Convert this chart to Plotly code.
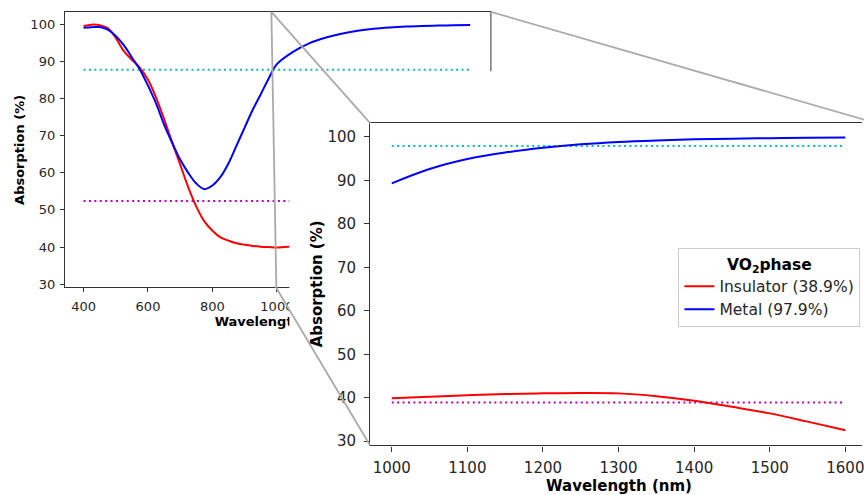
import plotly.graph_objects as go

# ---------------- data ----------------
wavelength = [400, 425, 450, 475, 500, 525, 550, 575, 600, 625, 650, 675, 700,
              725, 750, 775, 800, 825, 850, 875, 900, 925, 950, 975, 1000,
              1050, 1100, 1150, 1200, 1250, 1300, 1350, 1400, 1450, 1500, 1550, 1600]
insulator = [99.6, 99.95, 99.8, 99.0, 96.4, 92.8, 90.5, 88.3, 85.1, 80.3, 74.5, 68.2, 62.2,
             56.1, 50.9, 46.9, 44.4, 42.6, 41.7, 41.0, 40.6, 40.3, 40.1, 40.0, 39.9,
             40.2, 40.55, 40.85, 41.0, 41.1, 41.0, 40.35, 39.3, 37.9, 36.4, 34.5, 32.5]
metal = [99.1, 99.25, 99.3, 98.6, 96.9, 94.4, 91.1, 87.8, 83.5, 78.7, 73.0, 68.1, 63.6,
         60.0, 57.1, 55.6, 56.6, 58.9, 62.6, 67.4, 72.2, 77.0, 81.2, 85.5, 89.3,
         92.6, 94.9, 96.4, 97.5, 98.3, 98.85, 99.2, 99.45, 99.6, 99.7, 99.8, 99.85]

full_span = [400, 1600]
nir_span = [1000, 1600]
avg_full_insulator = 52.4
avg_full_metal = 87.8
avg_nir_insulator = 38.9
avg_nir_metal = 97.9

main_xticks = [400, 600, 800, 1000, 1200, 1400, 1600]
inset_xticks = [1000, 1100, 1200, 1300, 1400, 1500, 1600]
yticks = [30, 40, 50, 60, 70, 80, 90, 100]

# ---------------- layout helpers ----------------
W, H = 864, 495
def fx(p):
    return p / W
def fy(p):
    return 1 - p / H

FONT = "DejaVu Sans"
RED, BLUE, CYAN, MAG = "#ff0000", "#0000ff", "#00bfbf", "#bf00bf"
SPINE = "#333333"
TXT = "#262626"
DOT = "2px,3.4px"

main_xr = [342, 1664]
main_yr = [29.2, 103.39]
inset_xr = [971.4, 1622]
inset_yr = [29.02, 103.19]

inset_idx = [i for i, w in enumerate(wavelength) if w >= nir_span[0]]
inset_wl = [wavelength[i] for i in inset_idx]
inset_ins = [insulator[i] for i in inset_idx]
inset_met = [metal[i] for i in inset_idx]

fig = go.Figure()

# ----- main plot (x, y) -----
fig.add_trace(go.Scatter(x=full_span, y=[avg_full_metal] * 2, mode="lines",
                         line=dict(color=CYAN, width=2, dash=DOT), showlegend=False,
                         xaxis="x", yaxis="y"))
fig.add_trace(go.Scatter(x=full_span, y=[avg_full_insulator] * 2, mode="lines",
                         line=dict(color=MAG, width=2, dash=DOT), showlegend=False,
                         xaxis="x", yaxis="y"))
fig.add_trace(go.Scatter(x=wavelength, y=insulator, mode="lines", line=dict(color=RED, width=2, shape="spline"),
                         showlegend=False, xaxis="x", yaxis="y"))
fig.add_trace(go.Scatter(x=wavelength, y=metal, mode="lines", line=dict(color=BLUE, width=2, shape="spline"),
                         showlegend=False, xaxis="x", yaxis="y"))

# ----- main x-axis title holder (x2, y2): below the main panel so the inset panel can hide part of it
fig.add_trace(go.Scatter(x=[0.5], y=[0.5], mode="text", text=["<b>Wavelength (nm)</b>"],
                         textfont=dict(family=FONT, size=13, color="black"),
                         cliponaxis=False, showlegend=False, hoverinfo="skip",
                         xaxis="x2", yaxis="y2"))

# ----- white cover panel (x3, y3) -----
fig.add_trace(go.Scatter(x=[None], y=[None], xaxis="x3", yaxis="y3", showlegend=False, hoverinfo="skip"))

# ----- inset (x4, y4) -----
fig.add_trace(go.Scatter(x=nir_span, y=[avg_nir_metal] * 2, mode="lines",
                         line=dict(color=CYAN, width=2, dash=DOT), showlegend=False,
                         xaxis="x4", yaxis="y4"))
fig.add_trace(go.Scatter(x=nir_span, y=[avg_nir_insulator] * 2, mode="lines",
                         line=dict(color=MAG, width=2, dash=DOT), showlegend=False,
                         xaxis="x4", yaxis="y4"))
fig.add_trace(go.Scatter(x=inset_wl, y=inset_ins, mode="lines", line=dict(color=RED, width=2, shape="spline"),
                         name=f"Insulator ({avg_nir_insulator}%)", xaxis="x4", yaxis="y4"))
fig.add_trace(go.Scatter(x=inset_wl, y=inset_met, mode="lines", line=dict(color=BLUE, width=2, shape="spline"),
                         name=f"Metal ({avg_nir_metal}%)", xaxis="x4", yaxis="y4"))

axis_common = dict(showgrid=False, zeroline=False, showline=True, linecolor=SPINE, linewidth=1.1,
                   ticks="outside", tickcolor=SPINE, tickwidth=1, ticklabeloverflow="allow")

fig.update_layout(
    width=W, height=H, autosize=False,
    margin=dict(l=0, r=0, t=0, b=0),
    paper_bgcolor="white", plot_bgcolor="white",
    font=dict(family=FONT, color=TXT),
    xaxis=dict(domain=[fx(65), fx(492)], range=main_xr, anchor="y", mirror=True,
               tickvals=main_xticks, ticklen=4, tickfont=dict(size=13), ticklabelstandoff=3,
               **axis_common),
    yaxis=dict(domain=[fy(290), fy(12)], range=main_yr, anchor="x",
               tickvals=yticks, ticklen=4, tickfont=dict(size=13), ticklabelstandoff=2,
               **axis_common),
    xaxis2=dict(domain=[fx(65), fx(492)], range=[0, 1], anchor="y2", visible=False),
    yaxis2=dict(domain=[fy(338), fy(314)], range=[0, 1], anchor="x2", visible=False),
    xaxis3=dict(domain=[fx(290), 1], range=[0, 1], anchor="y3", visible=False),
    yaxis3=dict(domain=[0, fy(72)], range=[0, 1], anchor="x3", visible=False),
    xaxis4=dict(domain=[fx(371), 1], range=inset_xr, anchor="y4", mirror=True,
                tickvals=inset_xticks, ticklen=5, tickfont=dict(size=15), ticklabelstandoff=3,
                **axis_common),
    yaxis4=dict(domain=[fy(450), fy(124.3)], range=inset_yr, anchor="x4",
                tickvals=yticks, ticklen=5, tickfont=dict(size=15), ticklabelstandoff=5,
                **axis_common),
    legend=dict(x=fx(680), y=fy(251), xanchor="left", yanchor="top",
                bgcolor="white", bordercolor="#cccccc", borderwidth=1,
                font=dict(family=FONT, size=15.5, color=TXT),
                title=dict(text="<b>VO<sub>2</sub>phase</b>", side="top center",
                           font=dict(family=FONT, size=15.5, color="black"))),
    showlegend=True,
)

annotations = [
    dict(text="<b>Absorption (%)</b>", xref="paper", yref="paper", x=fx(19.5), y=fy(151),
         textangle=-90, showarrow=False, font=dict(family=FONT, size=13, color="black"),
         xanchor="center", yanchor="middle"),
    dict(text="<b>Absorption (%)</b>", xref="paper", yref="paper", x=fx(318), y=fy(287),
         textangle=-90, showarrow=False, font=dict(family=FONT, size=15, color="black"),
         xanchor="center", yanchor="middle"),
    dict(text="<b>Wavelength (nm)</b>", xref="paper", yref="paper", x=fx(620), y=fy(491),
         showarrow=False, font=dict(family=FONT, size=15, color="black"),
         xanchor="center", yanchor="middle"),
]
fig.update_layout(annotations=annotations)

GREY = "#aaaaaa"
shapes = [
    # right edge of the zoom box on the main axes (hidden under the inset panel)
    dict(type="line", xref="paper", yref="paper", x0=fx(492), x1=fx(492), y0=fy(12), y1=fy(290),
         line=dict(color="#777777", width=1.5), layer="below"),
    # zoom box left edge and connectors
    dict(type="line", xref="paper", yref="paper", x0=fx(272), y0=fy(12), x1=fx(277), y1=fy(291),
         line=dict(color=GREY, width=1.8), layer="above"),
    dict(type="line", xref="paper", yref="paper", x0=fx(277), y0=fy(291), x1=fx(371), y1=fy(450),
         line=dict(color=GREY, width=1.8), layer="above"),
    dict(type="line", xref="paper", yref="paper", x0=fx(272), y0=fy(12), x1=fx(371), y1=fy(124.3),
         line=dict(color=GREY, width=1.8), layer="above"),
    dict(type="line", xref="paper", yref="paper", x0=fx(492), y0=fy(12), x1=fx(878), y1=fy(124.3),
         line=dict(color=GREY, width=1.8), layer="above"),
]
fig.update_layout(shapes=shapes)

fig.write_html("out.html", config={"displayModeBar": False},
               post_script="document.body.style.margin='0px';document.body.style.overflow='hidden';")
